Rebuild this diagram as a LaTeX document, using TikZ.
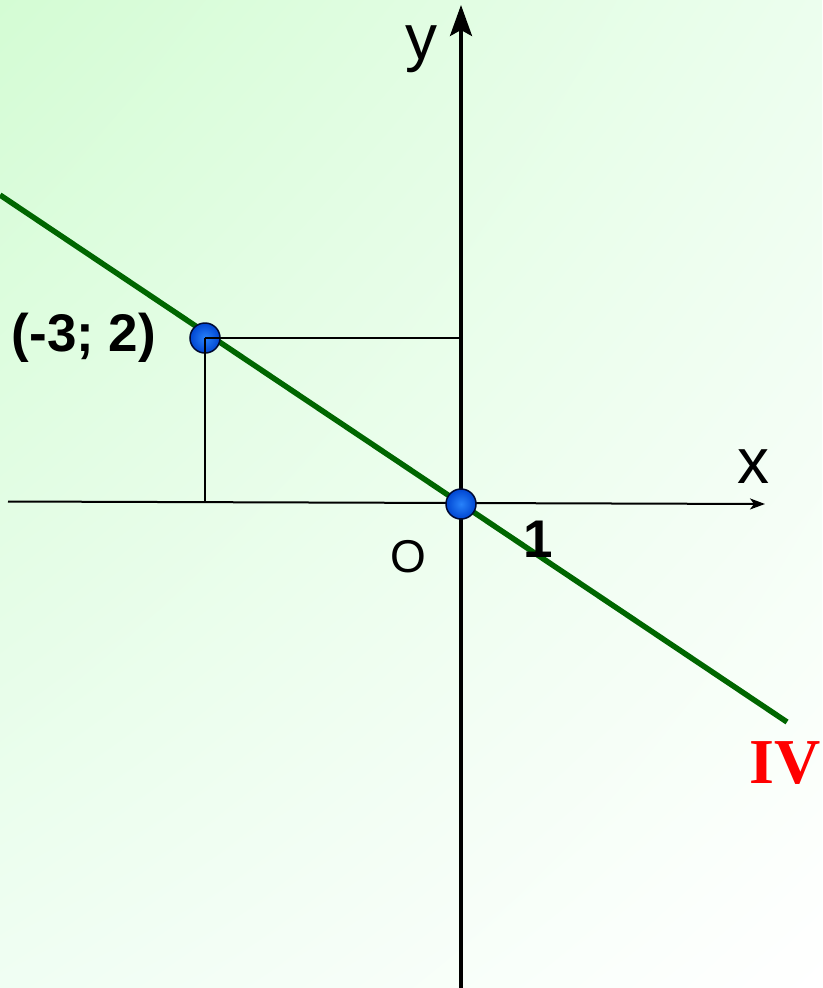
\documentclass[tikz,border=0pt]{standalone}
\usepackage{fontspec}
\setmainfont{Liberation Sans}
\newfontfamily\romanfont{Liberation Serif}
\usetikzlibrary{arrows.meta,shadings}

\definecolor{bgcorner}{RGB}{212,252,212}
\definecolor{bgright}{RGB}{236,254,238}
\definecolor{bgleft}{RGB}{240,254,243}
\definecolor{linegreen}{RGB}{0,102,0}
\definecolor{dotblue}{RGB}{0,70,210}
\definecolor{dotlight}{RGB}{40,130,250}
\definecolor{dotedge}{RGB}{0,10,50}

\tikzset{
  dot/.style={circle, minimum size=30pt, inner sep=0pt, draw=dotedge, line width=1.5pt,
    inner color=dotlight, outer color=dotblue},
  lbl/.style={inner sep=0pt, font=\fontsize{64}{64}\selectfont},
  numlbl/.style={inner sep=0pt, font=\bfseries\fontsize{53}{53}\selectfont}
}

\begin{document}
\begin{tikzpicture}[x=1pt,y=-1pt]
    \shade[upper left=bgcorner, upper right=bgright, lower left=bgleft, lower right=white]
      (0,0) rectangle (822,988);
    \useasboundingbox (0,0) rectangle (822,988);
    % osys
    \coordinate (Ybot) at (461,988);
    \coordinate (Ytop) at (461,5);
    \coordinate (Xleft) at (8,501.5);
    \coordinate (Xright) at (765,504);
    \draw[line width=3.5pt, -{Stealth[length=31pt,width=22pt,inset=6pt]}] (Ybot) -- (Ytop);
    \draw[line width=2pt, -{Stealth[length=15pt,width=11pt,inset=4pt]}] (Xleft) -- (Xright);
    % tiese
    \coordinate (Lstart) at (0,195);
    \coordinate (Lend) at (787,722);
    \draw[line width=5.5pt, linegreen] (Lstart) -- (Lend);
    % taskai
    \node[dot] (O) at (461,504) {};
    \node[dot] (A) at (205,338) {};
    \draw[line width=1.8pt] (A.center) -- (A.center -| Ytop);
    \draw[line width=1.8pt] (A.center) -- (A.center |- Xleft);
    % zymes
    \node[lbl] (ylab) at (421,49) {y};
    \node[lbl] (xlab) at (753,467) {x};
    \node[numlbl] (Alab) at (84,338) {(-3; 2)};
    \node[inner sep=0pt, font=\fontsize{46}{46}\selectfont] (Olab) at (408,557) {O};
    \node[numlbl] (one) at (538,539) {1};
    \node[inner sep=0pt, red, font=\romanfont\bfseries\fontsize{64}{64}\selectfont] (IV) at (785,763) {IV};
\end{tikzpicture}
\end{document}
